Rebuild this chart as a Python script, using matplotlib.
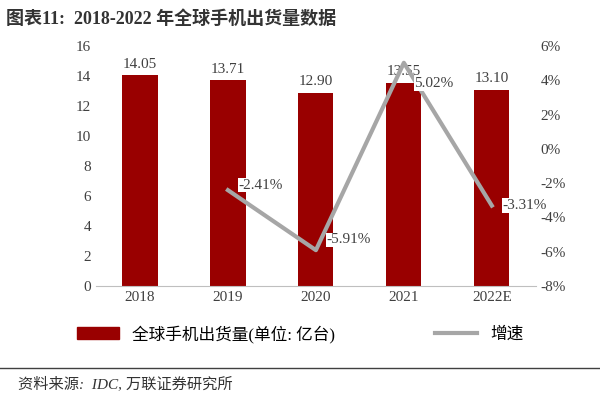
import matplotlib.pyplot as plt
from matplotlib.lines import Line2D

plt.rcParams['font.family'] = ['Liberation Serif', 'Noto Sans CJK SC']

years = ['2018', '2019', '2020', '2021', '2022E']
shipments = [14.05, 13.71, 12.90, 13.55, 13.10]
growth = [None, -2.41, -5.91, 5.02, -3.31]

fig = plt.figure(figsize=(6, 4), dpi=100)
ax = fig.add_axes([0.16, 0.285, 0.733, 0.6])
x = range(len(years))
ax.bar(x, shipments, width=0.4, color='#990000')
for i, v in enumerate(shipments):
    ax.text(i, v + 0.3, f'{v:.2f}', ha='center', va='bottom', fontsize=11, color='#404040')
ax.set_ylim(0, 16)
ax.set_yticks(range(0, 17, 2))
ax.set_xlim(-0.5, 4.5)
ax.set_xticks(list(x))
ax.set_xticklabels(years)
for s in ['top', 'right', 'left']:
    ax.spines[s].set_visible(False)
ax.spines['bottom'].set_color('#bfbfbf')
ax.tick_params(length=0, labelsize=11, colors='#404040')

ax2 = ax.twinx()
gx = [i for i, g in enumerate(growth) if g is not None]
gy = [g for g in growth if g is not None]
ax2.plot(gx, gy, color='#a6a6a6', lw=3)
offs = [(0.12, 0.3), (0.12, 0.6), (0.12, -1.2), (0.12, 0)]
for (i, g), (dx, dy) in zip(zip(gx, gy), offs):
    ax2.text(i + dx, g + dy, f'{g:.2f}%', ha='left', va='center', fontsize=11, color='#404040',
             bbox=dict(facecolor='white', edgecolor='none', pad=0.5))
ax2.set_ylim(-8, 6)
ax2.set_yticks(range(-8, 7, 2))
ax2.set_yticklabels([f'{t}%' for t in range(-8, 7, 2)])
for s in ax2.spines.values():
    s.set_visible(False)
ax2.tick_params(length=0, labelsize=11, colors='#404040')

handles = [plt.Rectangle((0, 0), 1, 1, color='#990000'),
           Line2D([0], [0], color='#a6a6a6', lw=3)]
fig.legend(handles, ['全球手机出货量(单位: 亿台)', '增速'], loc='center',
           bbox_to_anchor=(0.5, 0.165), ncol=2, frameon=False, fontsize=12,
           columnspacing=6, handlelength=2.5)

fig.text(0.01, 0.975, '图表11:  2018-2022 年全球手机出货量数据', fontsize=13,
         fontweight='bold', va='top', color='#333333')
fig.add_artist(Line2D([0.0, 1.0], [0.08, 0.08], color='#404040', lw=1))
fig.text(0.03, 0.04, '资料来源:  IDC, 万联证券研究所', fontsize=11, style='italic',
         va='center', color='#333333')

fig.savefig('out.png')
